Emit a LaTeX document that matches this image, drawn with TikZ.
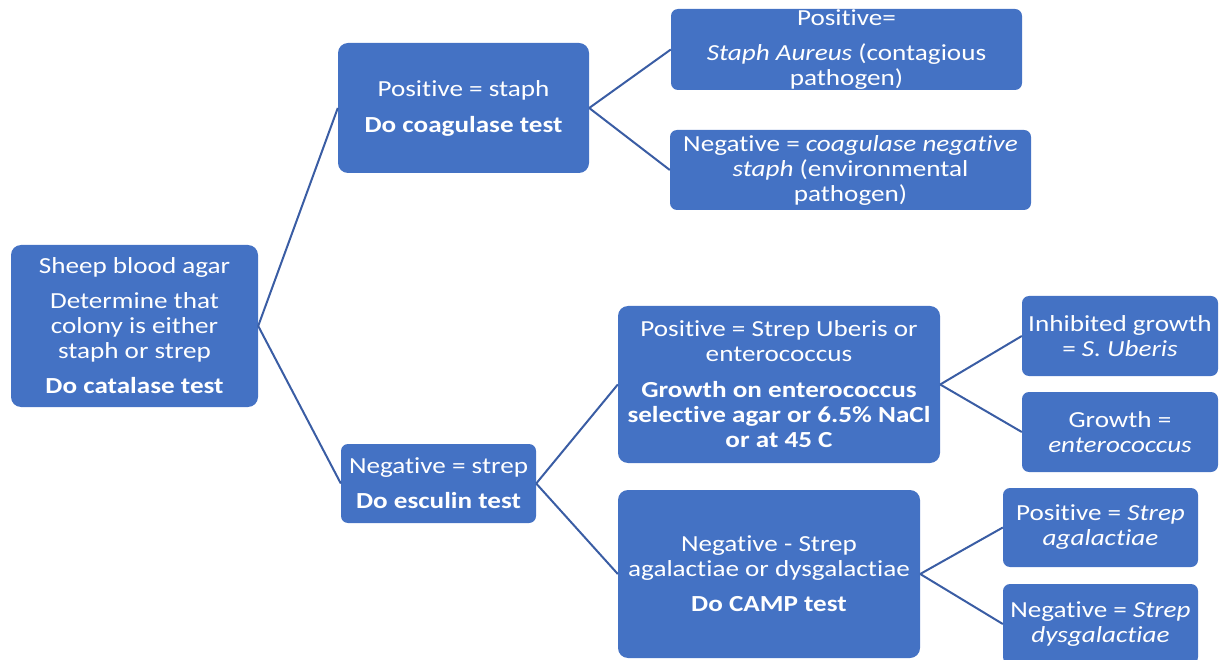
\documentclass[tikz,border=0pt]{standalone}
\usepackage{fontspec}
\setmainfont{Carlito}[FakeStretch=1.18, Ligatures=NoCommon]
\definecolor{boxblue}{HTML}{4472C4}
\definecolor{lineblue}{HTML}{3A5DA4}
\tikzset{
  blk/.style={fill=boxblue, text=white, rounded corners=10pt, inner sep=0pt, align=center,
    font=\fontsize{23}{25}\selectfont},
  link/.style={draw=lineblue, line width=2pt}
}
\begin{document}
\begin{tikzpicture}[x=1pt,y=-1pt]
\useasboundingbox (0,0) rectangle (1221,660);

% first level
\node[blk, minimum width=247, minimum height=162] (sba) at (134.5,326)
  {Sheep blood agar\\[10pt] Determine that\\ colony is either\\ staph or strep\\[10pt] \textbf{Do catalase test}};

% staph branch
\node[blk, minimum width=251, minimum height=130] (posstaph) at (463.5,108)
  {Positive = staph\\[11pt] \textbf{Do coagulase test}};
\node[blk, minimum width=351, minimum height=81, rounded corners=7pt] (aureus) at (846.5,49.5)
  {Positive=\\[10pt] \textit{Staph Aureus} (contagious\\ pathogen)};
\node[blk, minimum width=361, minimum height=80, rounded corners=7pt] (cons) at (850.5,170)
  {Negative = \textit{coagulase negative}\\ \textit{staph} (environmental\\ pathogen)};

% strep branch
\node[blk, minimum width=195, minimum height=79, rounded corners=7pt] (negstrep) at (438.5,483.5)
  {Negative = strep\\[10pt] \textbf{Do esculin test}};
\node[blk, minimum width=322, minimum height=157] (uberis) at (779,384.5)
  {Positive = Strep Uberis or\\ enterococcus\\[11pt] \textbf{Growth on enterococcus}\\
   \textbf{selective agar or 6.5\% NaCl}\\ \textbf{or at 45 C}};
\node[blk, minimum width=196, minimum height=80, rounded corners=7pt] (inhib) at (1120,336)
  {Inhibited growth\\ = \textit{S. Uberis}};
\node[blk, minimum width=196, minimum height=80, rounded corners=7pt] (growth) at (1120,432)
  {Growth =\\ \textit{enterococcus}};
\node[blk, minimum width=302, minimum height=168] (camp) at (769,574)
  {Negative - Strep\\ agalactiae or dysgalactiae\\[10pt] \textbf{Do CAMP test}};
\node[blk, minimum width=195, minimum height=79, rounded corners=7pt] (agal) at (1100.5,527.5)
  {Positive = \textit{Strep}\\ \textit{agalactiae}};
\node[blk, minimum width=195, minimum height=80, rounded corners=7pt] (dysg) at (1100.5,624)
  {Negative = \textit{Strep}\\ \textit{dysgalactiae}};

% connectors
\draw[link] (sba.east) -- (posstaph.west);
\draw[link] (sba.east) -- (negstrep.west);
\draw[link] (posstaph.east) -- (aureus.west);
\draw[link] (posstaph.east) -- (cons.west);
\draw[link] (negstrep.east) -- (uberis.west);
\draw[link] (negstrep.east) -- (camp.west);
\draw[link] (uberis.east) -- (inhib.west);
\draw[link] (uberis.east) -- (growth.west);
\draw[link] (camp.east) -- (agal.west);
\draw[link] (camp.east) -- (dysg.west);
\end{tikzpicture}
\end{document}
